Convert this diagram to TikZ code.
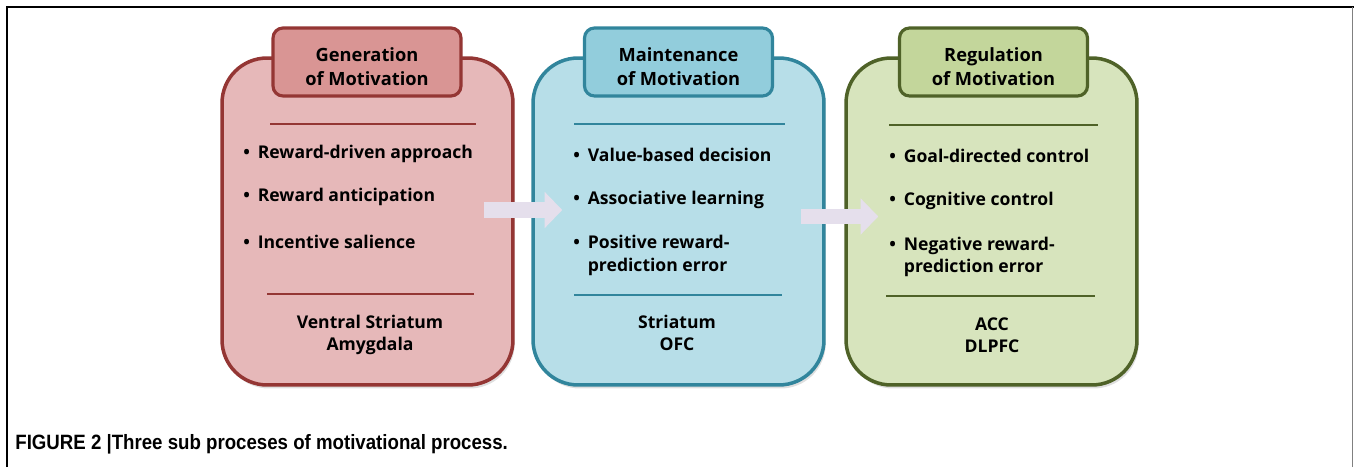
\documentclass[tikz,border=0pt]{standalone}
\usepackage{fontspec}
\setmainfont{Open Sans}
\newfontfamily\captionfont[FakeStretch=0.9]{Liberation Sans}
\usetikzlibrary{arrows.meta,shadows}

\definecolor{genline}{HTML}{943634}
\definecolor{genfill}{HTML}{E6B8B9}
\definecolor{genhd}{HTML}{D99594}
\definecolor{mainline}{HTML}{31859C}
\definecolor{mainfill}{HTML}{B7DEE8}
\definecolor{mainhd}{HTML}{92CDDC}
\definecolor{regline}{HTML}{4F6228}
\definecolor{regfill}{HTML}{D7E4BD}
\definecolor{reghd}{HTML}{C3D69B}
\definecolor{flowcol}{HTML}{E5DFEC}

\newcommand{\dotitem}{•\hspace{0.45em}}
\newcommand{\headstrut}{\rule{0pt}{13.6pt}}

\tikzset{
  panel/.style 2 args={draw=#1, fill=#2, line width=2pt, rounded corners=0.9cm,
    minimum width=5.82cm, minimum height=6.54cm,
    drop shadow={opacity=0.25, shadow xshift=1pt, shadow yshift=-2pt}},
  head/.style 2 args={draw=#1, fill=#2, line width=1.8pt, rounded corners=0.2cm,
    minimum width=3.76cm, minimum height=1.36cm, align=center,
    font=\bfseries\fontsize{10.4}{13.6}\selectfont},
  item/.style={anchor=west, align=left, inner sep=0pt,
    font=\bfseries\fontsize{10}{13}\selectfont},
  area/.style={align=center, font=\bfseries\fontsize{10}{12.5}\selectfont},
  flow/.style={draw=flowcol, line width=9pt, -{Triangle[length=10pt,width=20pt]}}
}

\begin{document}
\begin{tikzpicture}[x=0.02cm, y=0.02cm]
    \useasboundingbox (0,0) rectangle (1354,467);
    % frame
    \draw[line width=0.9pt] (7,0) -- (7,460) -- (1354,460);
    \draw[gray, line width=0.9pt] (1352.5,0) -- (1352.5,460);

    % panels
    \node[panel={genline}{genfill}] (gen) at (367.5,245.5) {};
    \node[panel={mainline}{mainfill}] (main) at (678.5,245.5) {};
    \node[panel={regline}{regfill}] (reg) at (991.5,245.5) {};

    \node[head={genline}{genhd}] (genhead) at (367,405) {\headstrut Generation\\of Motivation};
    \node[head={mainline}{mainhd}] (mainhead) at (678.5,405) {\headstrut Maintenance\\of Motivation};
    \node[head={regline}{reghd}] (reghead) at (993.5,405) {\headstrut Regulation\\of Motivation};

    % separators
    \draw[genline, line width=0.8pt] (270,343) -- (476,343);
    \draw[genline, line width=0.8pt] (267,173) -- (474,173);
    \draw[mainline, line width=0.8pt] (574,343) -- (785,343);
    \draw[mainline, line width=0.8pt] (574,172) -- (782,172);
    \draw[regline, line width=0.8pt] (889,342) -- (1098,342);
    \draw[regline, line width=0.8pt] (886,171) -- (1095,171);

    % items
    \node[item] (gen1) at (243,313) {\dotitem Reward-driven approach};
    \node[item] (gen2) at (243,270) {\dotitem Reward anticipation};
    \node[item] (gen3) at (243,225) {\dotitem Incentive salience};
    \node[item] (main1) at (573,312) {\dotitem Value-based decision};
    \node[item] (main2) at (573,267) {\dotitem Associative learning};
    \node[item] (main3) at (573,211.5) {\dotitem Positive reward-\\\hphantom{\dotitem}prediction error};
    \node[item] (reg1) at (889,311) {\dotitem Goal-directed control};
    \node[item] (reg2) at (889,266) {\dotitem Cognitive control};
    \node[item] (reg3) at (889,210) {\dotitem Negative reward-\\\hphantom{\dotitem}prediction error};

    % regions
    \node[area] (genarea) at (370,132.5) {Ventral Striatum\\Amygdala};
    \node[area] (mainarea) at (677,134) {Striatum\\OFC};
    \node[area] (regarea) at (992,132) {ACC\\DLPFC};

    % flow arrows
    \draw[flow] ([shift={(-31,11.5)}]gen.east) -- ([shift={(31,11.5)}]main.west);
    \draw[flow] ([shift={(-25,5)}]main.east) -- ([shift={(34,5)}]reg.west);

    \node[anchor=base west, inner sep=0pt, font=\captionfont\bfseries\fontsize{11.8}{14}\selectfont]
        (caption) at (15,18) {FIGURE 2 |Three sub proceses of motivational process.};
\end{tikzpicture}
\end{document}
